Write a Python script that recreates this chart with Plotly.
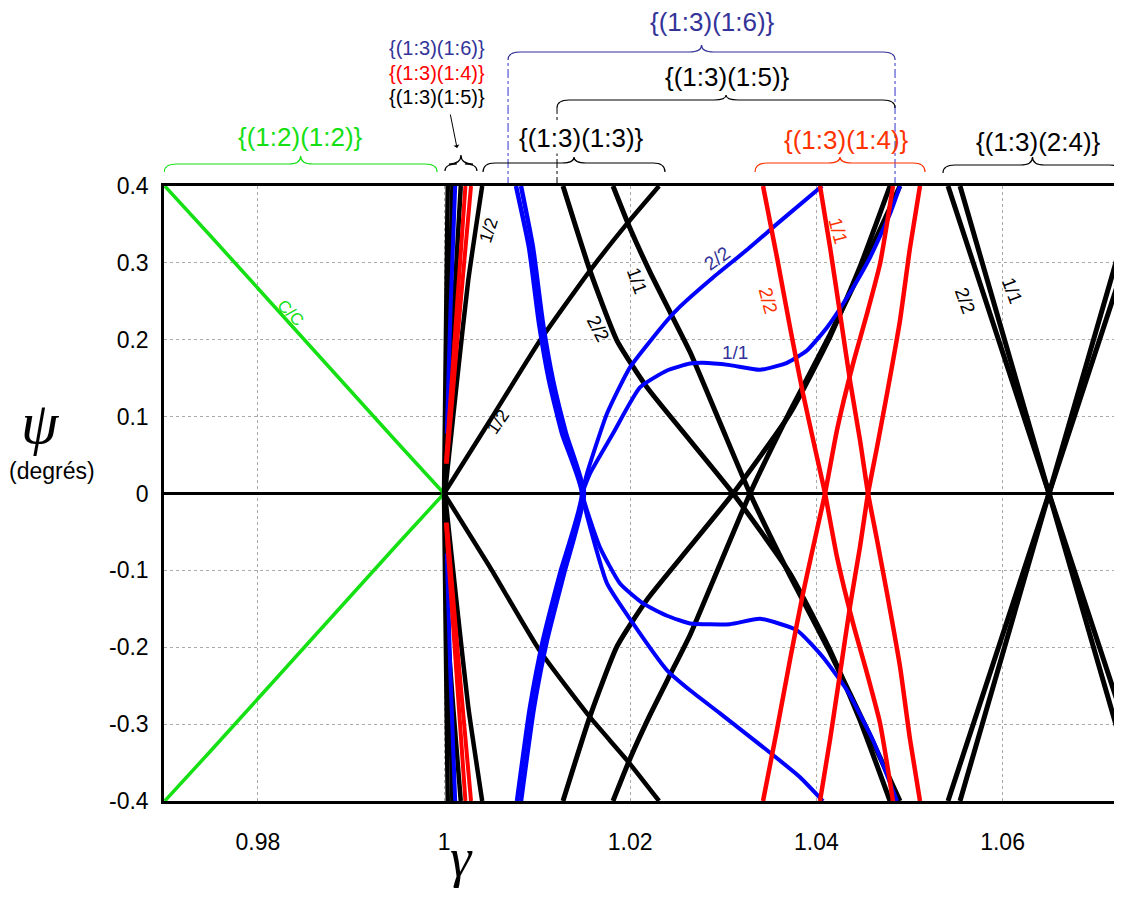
import plotly.graph_objects as go

# ---------------- axes ----------------
GAMMA_RANGE = [0.96992, 1.07283]
PSI_RANGE = [-0.4, 0.4]
x_tickvals = [0.98, 1.00, 1.02, 1.04, 1.06]
x_ticktext = ["0.98", "1", "1.02", "1.04", "1.06"]
y_tickvals = [0.4, 0.3, 0.2, 0.1, 0.0, -0.1, -0.2, -0.3, -0.4]
y_ticktext = ["0.4", "0.3", "0.2", "0.1", "0", "-0.1", "-0.2", "-0.3", "-0.4"]

# ---------------- data ----------------
# green C/C  {(1:2)(1:2)}
cc_gamma = [0.970, 0.975, 0.980, 0.985, 0.990, 0.995, 1.000]
cc_psi_up = [0.400, 0.334, 0.267, 0.200, 0.133, 0.066, 0.000]
cc_psi_dn = [-0.400, -0.334, -0.267, -0.200, -0.133, -0.066, 0.000]

# bundle just above gamma = 1
bk1_gamma = [1.0000, 1.0002, 1.0004]
bk1_psi_up = [0.000, 0.200, 0.400]
bk1_psi_dn = [0.000, -0.200, -0.400]
bk2_gamma = [1.0001, 1.0005, 1.0009]
bk2_psi_up = [0.020, 0.200, 0.400]
bk2_psi_dn = [-0.020, -0.200, -0.400]
bbl_gamma = [1.0003, 1.0007, 1.0012]
bbl_psi_up = [0.078, 0.240, 0.400]
bbl_psi_dn = [-0.078, -0.240, -0.400]
bk3_gamma = [1.0002, 1.0010, 1.0018]
bk3_psi_up = [0.050, 0.230, 0.400]
bk3_psi_dn = [-0.150, -0.280, -0.400]
br1_gamma = [1.0002, 1.0012, 1.0023]
br1_psi_up = [0.039, 0.210, 0.400]
br1_psi_dn = [-0.038, -0.210, -0.400]
br2_gamma = [1.0003, 1.0015, 1.0029]
br2_psi_up = [0.039, 0.210, 0.400]
br2_psi_dn = [-0.038, -0.210, -0.400]
bk4_gamma = [1.0001, 1.0014, 1.0026, 1.0041]
bk4_psi_up = [0.000, 0.147, 0.277, 0.400]
bk4_psi_dn = [0.000, -0.147, -0.277, -0.400]

# long black 1/2 pair
k12_gamma = [1.0000, 1.00494, 1.01031, 1.01568, 1.01966, 1.02310]
k12_psi_up = [0.000, 0.095, 0.199, 0.290, 0.351, 0.400]
k12_psi_dn = [0.000, -0.096, -0.205, -0.291, -0.347, -0.400]

# black 2/2 and its mirror
k22_gamma = [1.01278, 1.01568, 1.01858, 1.02181, 1.02643, 1.03105, 1.03717, 1.04147, 1.04469, 1.04791]
k22_psi = [0.400, 0.290, 0.199, 0.138, 0.069, 0.000, -0.104, -0.204, -0.295, -0.400]
k22m_psi = [-0.400, -0.290, -0.199, -0.138, -0.069, 0.000, 0.104, 0.204, 0.295, 0.400]

# black 1/1 and its mirror
k11_gamma = [1.01815, 1.01998, 1.02213, 1.02428, 1.02643, 1.02965, 1.03287, 1.03717, 1.04147, 1.04576, 1.04898]
k11_psi = [0.400, 0.345, 0.288, 0.236, 0.184, 0.092, 0.000, -0.107, -0.207, -0.315, -0.400]
k11m_psi = [-0.400, -0.345, -0.288, -0.236, -0.184, -0.092, 0.000, 0.107, 0.207, 0.315, 0.400]

# thick blue pair
bta_gamma = [1.00773, 1.00913, 1.01021, 1.01128, 1.01268, 1.01482, 1.01246, 1.01063, 1.00924, 1.00784]
btb_gamma = [1.00827, 1.00956, 1.01063, 1.01171, 1.01311, 1.01504, 1.01289, 1.01106, 1.00967, 1.00827]
bt_psi = [0.400, 0.320, 0.221, 0.147, 0.078, 0.000, -0.104, -0.191, -0.278, -0.400]

# blue 2/2
b22u_gamma = [1.01482, 1.01536, 1.01751, 1.01998, 1.02396, 1.02535, 1.02890, 1.03255, 1.03609, 1.04061]
b22u_psi = [0.000, 0.026, 0.104, 0.164, 0.225, 0.243, 0.281, 0.317, 0.354, 0.400]
b22d_gamma = [1.01482, 1.01536, 1.01751, 1.02030, 1.02396, 1.02643, 1.02965, 1.03470, 1.03824, 1.04071]
b22d_psi = [0.000, -0.029, -0.117, -0.169, -0.230, -0.256, -0.286, -0.334, -0.369, -0.400]

# blue 1/1
b11u_gamma = [1.01482, 1.01568, 1.01815, 1.02105, 1.02396, 1.02643, 1.02782, 1.03072, 1.03395,
              1.03685, 1.03899, 1.04114, 1.04329, 1.04576, 1.04791, 1.04898]
b11u_psi = [0.000, 0.026, 0.078, 0.138, 0.160, 0.169, 0.170, 0.167, 0.161,
            0.170, 0.186, 0.216, 0.255, 0.307, 0.364, 0.400]
b11d_gamma = [1.01482, 1.01536, 1.01675, 1.01890, 1.02138, 1.02396, 1.02643, 1.03072, 1.03395,
              1.03792, 1.04071, 1.04329, 1.04608, 1.04866]
b11d_psi = [0.000, -0.022, -0.070, -0.117, -0.143, -0.159, -0.169, -0.170, -0.163,
            -0.178, -0.213, -0.256, -0.321, -0.400]

# red 2/2 and mirror
r22_gamma = [1.03427, 1.03577, 1.03717, 1.03856, 1.04007, 1.04093, 1.04222, 1.04394, 1.04544, 1.04684, 1.04823]
r22_psi = [0.400, 0.307, 0.216, 0.130, 0.047, 0.000, -0.083, -0.169, -0.234, -0.299, -0.400]
r22m_psi = [-0.400, -0.307, -0.216, -0.130, -0.047, 0.000, 0.083, 0.169, 0.234, 0.299, 0.400]

# red 1/1 and mirror
r11_gamma = [1.04039, 1.04147, 1.04254, 1.04361, 1.04469, 1.04555, 1.04651, 1.04759, 1.04898, 1.05006, 1.05113]
r11_psi = [0.400, 0.320, 0.234, 0.147, 0.069, 0.000, -0.060, -0.130, -0.225, -0.320, -0.400]
r11m_psi = [-0.400, -0.320, -0.234, -0.147, -0.069, 0.000, 0.060, 0.130, 0.225, 0.320, 0.400]

# black X on the right {(1:3)(2:4)}
s22_gamma = [1.05414, 1.06499, 1.07283]
s22_psi = [0.400, 0.000, -0.289]
s22m_psi = [-0.400, 0.000, 0.289]
s11_gamma = [1.05543, 1.06499, 1.07283]
s11_psi = [0.400, 0.000, -0.328]
s11m_psi = [-0.400, 0.000, 0.328]

# curve labels
lab_text = ["C/C", "1/2", "1/2", "2/2", "1/1", "2/2", "1/1", "2/2", "1/1", "2/2", "1/1"]
lab_gamma = [0.98346, 1.00473, 1.00580, 1.01654, 1.02073, 1.02933, 1.03126, 1.03481, 1.04232, 1.05597, 1.06102]
lab_psi = [0.2355, 0.342, 0.0924, 0.2146, 0.2771, 0.3057, 0.1834, 0.2511, 0.3421, 0.2511, 0.2641]

# top groups (braces)
group_text = ["{(1:2)(1:2)}", "{(1:3)(1:3)}", "{(1:3)(1:6)}", "{(1:3)(1:5)}", "{(1:3)(1:4)}", "{(1:3)(2:4)}"]
group_start = [0.96995, 1.00419, 1.00688, 1.01214, 1.03341, 1.05360]
group_end = [0.99925, 1.02374, 1.04845, 1.04845, 1.05167, 1.07283]
small_group_text = ["{(1:3)(1:6)}", "{(1:3)(1:4)}", "{(1:3)(1:5)}"]
small_group_start = 1.0001
small_group_end = 1.00354

# ---------------- styles ----------------
GREEN = "#14e014"
BLUE = "#0000ff"
RED = "#ff0000"
BLACK = "#000000"
LBLUE = "#333399"
ORANGE = "#ff3300"
FONT = "Liberation Sans, Arial, sans-serif"
SERIF = "Liberation Serif, DejaVu Serif, serif"

fig = go.Figure()


def curve(g, p, color, width=4.5):
    fig.add_trace(go.Scatter(x=g, y=p, mode="lines",
                             line=dict(color=color, width=width, shape="spline", smoothing=0.5),
                             hoverinfo="skip", showlegend=False))


curve(cc_gamma, cc_psi_up, GREEN, 3.5)
curve(cc_gamma, cc_psi_dn, GREEN, 3.5)

# black curves
for g, pu, pd in [(bk1_gamma, bk1_psi_up, bk1_psi_dn), (bk2_gamma, bk2_psi_up, bk2_psi_dn),
                  (bk3_gamma, bk3_psi_up, bk3_psi_dn), (bk4_gamma, bk4_psi_up, bk4_psi_dn),
                  (k12_gamma, k12_psi_up, k12_psi_dn)]:
    curve(g, pu, BLACK)
    curve(g, pd, BLACK)
for g, p in [(k22_gamma, k22_psi), (k22_gamma, k22m_psi), (k11_gamma, k11_psi), (k11_gamma, k11m_psi),
             (s22_gamma, s22_psi), (s22_gamma, s22m_psi), (s11_gamma, s11_psi), (s11_gamma, s11m_psi)]:
    curve(g, p, BLACK, 5)

# blue curves
curve(bbl_gamma, bbl_psi_up, BLUE, 4)
curve(bbl_gamma, bbl_psi_dn, BLUE, 4)
curve(bta_gamma, bt_psi, BLUE, 4.5)
curve(btb_gamma, bt_psi, BLUE, 4.5)
curve(b22u_gamma, b22u_psi, BLUE, 4)
curve(b22d_gamma, b22d_psi, BLUE, 4)
curve(b11u_gamma, b11u_psi, BLUE, 4)
curve(b11d_gamma, b11d_psi, BLUE, 4)

# red curves
curve(br1_gamma, br1_psi_up, RED, 4)
curve(br1_gamma, br1_psi_dn, RED, 4)
curve(br2_gamma, br2_psi_up, RED, 4)
curve(br2_gamma, br2_psi_dn, RED, 4)
curve(r22_gamma, r22_psi, RED, 4.5)
curve(r22_gamma, r22m_psi, RED, 4.5)
curve(r11_gamma, r11_psi, RED, 4.5)
curve(r11_gamma, r11m_psi, RED, 4.5)

annotations = []

# curve labels
lab_color = [GREEN, BLACK, BLACK, BLACK, BLACK, LBLUE, LBLUE, ORANGE, ORANGE, BLACK, BLACK]
lab_angle = [45, -72, -55, 62, 70, -35, 0, 75, 75, 70, 70]
lab_size = [17, 18, 18, 19, 19, 19, 19, 19, 19, 19, 19]
for t, g, p, c, a, s in zip(lab_text, lab_gamma, lab_psi, lab_color, lab_angle, lab_size):
    annotations.append(dict(x=g, y=p, xref="x", yref="y", text=t, showarrow=False, textangle=a,
                            xanchor="center", yanchor="middle",
                            font=dict(family=FONT, size=s, color=c)))


# braces: rows are screen pixel rows above the plot area (plot top = 186, height 615)
def py(px):
    return 1 + (186 - px) / 615.0


R = 0.0013


def brace(x0, x1, yb, ybar, ytip, color, width=1.2):
    xc = (x0 + x1) / 2
    path = (f"M {x0},{yb} Q {x0},{ybar} {x0 + R},{ybar} L {xc - R},{ybar} "
            f"Q {xc},{ybar} {xc},{ytip} Q {xc},{ybar} {xc + R},{ybar} "
            f"L {x1 - R},{ybar} Q {x1},{ybar} {x1},{yb}")
    return dict(type="path", path=path, xref="x", yref="paper", line=dict(color=color, width=width),
                layer="above")


group_color = [GREEN, BLACK, LBLUE, BLACK, ORANGE, BLACK]
group_levels = [(172, 164, 156), (172, 163, 157), (60, 52, 45), (108, 100, 95), (172, 163, 157), (173, 165, 157)]
group_text_y = [137, 138, 22, 77, 140, 142]
group_xshift = [0, 7, 11, 1, 6, 6]
group_bg = ["rgba(0,0,0,0)", "white", "rgba(0,0,0,0)", "rgba(0,0,0,0)", "rgba(0,0,0,0)", "rgba(0,0,0,0)"]
shapes = []
for t, x0, x1, c, lv, ty, xs, bg in zip(group_text, group_start, group_end, group_color, group_levels,
                                        group_text_y, group_xshift, group_bg):
    shapes.append(brace(x0, x1, py(lv[0]), py(lv[1]), py(lv[2]), c))
    annotations.append(dict(x=(x0 + x1) / 2, y=py(ty), xref="x", yref="paper", text=t, showarrow=False,
                            xshift=xs, xanchor="center", yanchor="middle", bgcolor=bg, borderpad=0,
                            font=dict(family=FONT, size=26, color=c)))

# small brace + stacked labels + arrow
shapes.append(brace(small_group_start, small_group_end, py(171), py(164), py(155), BLACK, 1.2))
small_colors = [LBLUE, RED, BLACK]
small_y = [48, 73, 97]
for t, c, yy in zip(small_group_text, small_colors, small_y):
    annotations.append(dict(x=0.99925, y=py(yy), xref="x", yref="paper", text=t, showarrow=False,
                            xanchor="center", yanchor="middle",
                            font=dict(family=FONT, size=20, color=c)))
annotations.append(dict(x=1.0014, y=py(148), xref="x", yref="paper", text="", showarrow=True,
                        ax=-7, ay=-35, arrowhead=1, arrowsize=1, arrowwidth=1, arrowcolor=BLACK))

# dash-dot guide lines
for g, ytop, c in [(group_start[2], 60, "#3333cc"), (group_end[2], 60, "#3333cc"), (group_start[3], 108, BLACK)]:
    shapes.append(dict(type="line", x0=g, x1=g, y0=1.0, y1=py(ytop), xref="x", yref="paper",
                       line=dict(color=c, width=1, dash="dashdot"), layer="below"))

# axis titles
annotations.append(dict(x=-0.1294, y=0.6146, xref="paper", yref="paper", text="<i>ψ</i>", showarrow=False,
                        xanchor="center", yanchor="middle",
                        font=dict(family=SERIF, size=60, color=BLACK)))
annotations.append(dict(x=-0.1169, y=0.5366, xref="paper", yref="paper", text="(degrés)", showarrow=False,
                        xanchor="center", yanchor="middle",
                        font=dict(family=FONT, size=23, color=BLACK)))
annotations.append(dict(x=0.311, y=-0.0925, xref="paper", yref="paper", text="<i>γ</i>", showarrow=False,
                        xanchor="center", yanchor="middle",
                        font=dict(family=SERIF, size=54, color=BLACK)))

# page body has an 8px default margin, so the figure is drawn smaller and offset
fig.update_layout(
    width=1114, height=880,
    margin=dict(l=156, r=0, t=178, b=87),
    paper_bgcolor="white", plot_bgcolor="white",
    showlegend=False,
    annotations=annotations,
    shapes=shapes,
    font=dict(family=FONT, size=22, color=BLACK),
)
fig.update_xaxes(range=GAMMA_RANGE, tickvals=x_tickvals, ticktext=x_ticktext,
                 showgrid=True, gridcolor="#aaaaaa", griddash="dot", gridwidth=1,
                 showline=True, linecolor=BLACK, linewidth=3, mirror=True,
                 ticks="outside", ticklen=18, tickcolor="rgba(0,0,0,0)",
                 tickfont=dict(family=FONT, size=23, color=BLACK), zeroline=False)
fig.update_yaxes(range=PSI_RANGE, tickvals=y_tickvals, ticktext=y_ticktext,
                 showgrid=True, gridcolor="#aaaaaa", griddash="dot", gridwidth=1,
                 showline=True, linecolor=BLACK, linewidth=2.5, mirror=False,
                 ticks="outside", ticklen=8, tickcolor="rgba(0,0,0,0)",
                 tickfont=dict(family=FONT, size=23, color=BLACK),
                 zeroline=True, zerolinecolor=BLACK, zerolinewidth=2.5)

fig.write_html("out.html")
